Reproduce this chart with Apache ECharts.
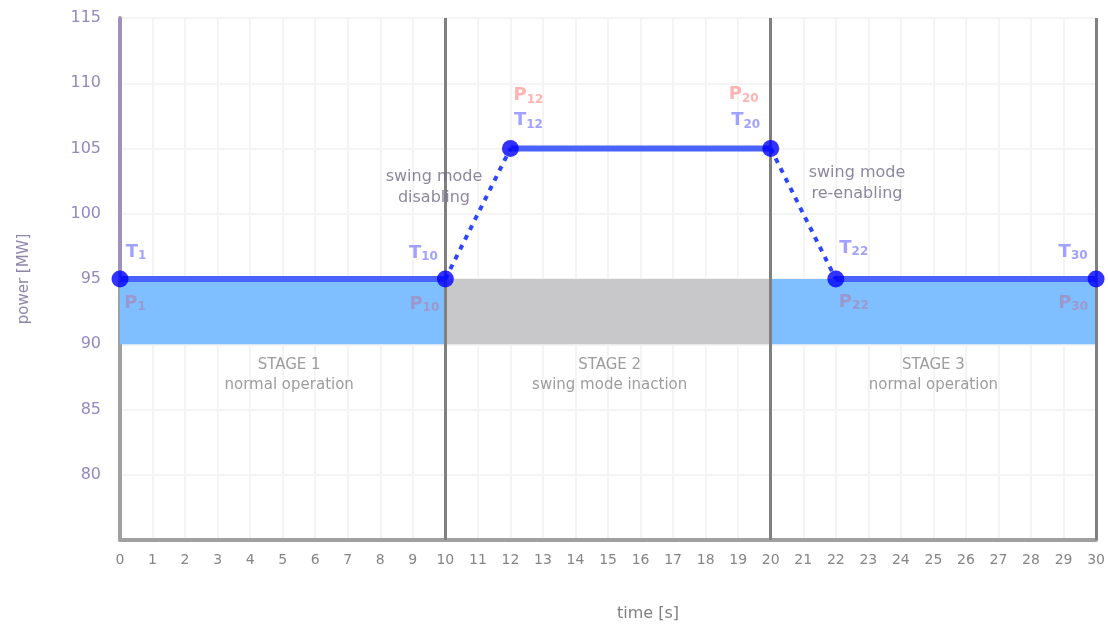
<!DOCTYPE html>
<html><head><meta charset="utf-8">
<script src="https://cdn.jsdelivr.net/npm/echarts@6.0.0/dist/echarts.min.js"></script>
<style>html,body{margin:0;padding:0;background:#fff}#c{width:1108px;height:628px}</style>
</head><body><div id="c"></div>
<script>
// ---- data ----
const times = [0, 10, 12, 20, 22, 30];
const power = [95, 95, 105, 105, 95, 95];
const solidSegments = [[0, 1], [2, 3], [4, 5]];
const dashedSegments = [[1, 2], [3, 4]];
const pointSubscripts = ['1', '10', '12', '20', '22', '30'];
const stageBounds = [0, 10, 20, 30];
const bandRange = [90, 95];
const stageTitles = ['STAGE 1', 'STAGE 2', 'STAGE 3'];
const stageTexts = ['normal operation', 'swing mode inaction', 'normal operation'];
const noteTexts = ['swing mode\ndisabling', 'swing mode\nre-enabling'];
const yMin = 75, yMax = 115;

// ---- layout (not data) ----
const tOffsets = [[16, -27], [-22, -26], [18, -28], [-25, -28], [18, -31], [-23, -27]];
const pOffsets = [[15, 24], [-21, 25], [18, -53], [-27, -54], [18, 23], [-23, 24]];
const pTopColor = [false, false, true, true, false, false];
const stageLabelPos = [[5.2, 87.6], [15.05, 87.6], [25.0, 87.6]];
const notePos = [[9.65, 102.0], [22.65, 102.3]];
const bandColors = ['#80bfff', '#c8c8cb', '#80bfff'];
const FONT = 'DejaVu Sans';

const chart = echarts.init(document.getElementById('c'), null, {renderer: 'canvas'});

const series = [];

// stage bands
series.push({
  type: 'line', data: [], silent: true, z: 1,
  markArea: {
    silent: true,
    data: stageTitles.map((_, i) => [
      {xAxis: stageBounds[i], yAxis: bandRange[0], itemStyle: {color: bandColors[i], opacity: 1}},
      {xAxis: stageBounds[i + 1], yAxis: bandRange[1]}
    ])
  }
});

// stage boundary lines
series.push({
  type: 'line', data: [], silent: true, z: 3,
  markLine: {
    silent: true, symbol: ['none', 'none'], label: {show: false},
    lineStyle: {color: '#808080', width: 3, type: 'solid'},
    data: stageBounds.slice(1).map(b => ({xAxis: b}))
  }
});

// purple segment on y axis
series.push({
  type: 'line', silent: true, z: 4, symbol: 'none',
  lineStyle: {color: '#a090c0', width: 4},
  data: [[times[0], power[0]], [times[0], yMax]]
});

solidSegments.forEach(([a, b]) => series.push({
  type: 'line', symbol: 'none', z: 5, silent: true,
  lineStyle: {color: '#4a62ff', width: 6},
  data: [[times[a], power[a]], [times[b], power[b]]]
}));
dashedSegments.forEach(([a, b]) => series.push({
  type: 'line', symbol: 'none', z: 5, silent: true,
  lineStyle: {color: '#2f46ff', width: 4, type: [5, 6]},
  data: [[times[a], power[a]], [times[b], power[b]]]
}));

// points
series.push({
  type: 'scatter', z: 6, symbol: 'circle', symbolSize: 17,
  itemStyle: {color: '#0000ff'},
  data: times.map((t, i) => [t, power[i]])
});

const rich = (c) => ({
  m: {fontSize: 18, color: c, fontFamily: FONT, fontWeight: 'bold'},
  s: {fontSize: 12, color: c, fontFamily: FONT, fontWeight: 'bold', padding: [8, 0, 0, 0]}
});

// T labels
series.push({
  type: 'scatter', z: 7, symbolSize: 0, silent: true,
  data: times.map((t, i) => ({
    value: [t, power[i]],
    label: {
      show: true, position: 'inside', offset: tOffsets[i],
      formatter: '{m|T}{s|' + pointSubscripts[i] + '}', rich: rich('#8a8aff')
    }
  }))
});
// P labels
series.push({
  type: 'scatter', z: 7, symbolSize: 0, silent: true,
  data: times.map((t, i) => ({
    value: [t, power[i]],
    label: {
      show: true, position: 'inside', offset: pOffsets[i],
      formatter: '{m|P}{s|' + pointSubscripts[i] + '}',
      rich: rich(pTopColor[i] ? '#ffa0a0' : '#a08fc0')
    }
  }))
});

// stage texts
series.push({
  type: 'scatter', z: 7, symbolSize: 0, silent: true,
  data: stageTitles.map((s, i) => ({
    value: stageLabelPos[i],
    label: {
      show: true, position: 'inside', formatter: s + '\n' + stageTexts[i],
      color: '#858585', fontSize: 15, lineHeight: 20, align: 'center',
      fontFamily: FONT
    }
  }))
});
// notes
series.push({
  type: 'scatter', z: 7, symbolSize: 0, silent: true,
  data: noteTexts.map((s, i) => ({
    value: notePos[i],
    label: {
      show: true, position: 'inside', formatter: s,
      color: '#6f6986', fontSize: 16, lineHeight: 21, align: 'center',
      fontFamily: FONT
    }
  }))
});

chart.setOption({
  animation: false,
  backgroundColor: '#ffffff',
  grid: {left: 120, right: 8, top: 18, bottom: 88, containLabel: false},
  xAxis: {
    type: 'value', min: 0, max: 30, interval: 1,
    name: 'time [s]', nameLocation: 'middle', nameGap: 66,
    nameTextStyle: {color: '#808080', fontSize: 16, padding: [0, 0, 0, 80], fontFamily: FONT},
    axisLine: {show: true, lineStyle: {color: '#a0a0a0', width: 4}},
    axisTick: {show: false},
    axisLabel: {color: '#858585', fontSize: 14, margin: 13, fontFamily: FONT},
    splitLine: {show: true, lineStyle: {color: '#f4f4f4', width: 2}}
  },
  yAxis: {
    type: 'value', min: yMin, max: yMax, interval: 5,
    name: 'power [MW]', nameLocation: 'middle', nameGap: 88, nameRotate: 90,
    nameTextStyle: {color: '#8f86aa', fontSize: 15, fontFamily: FONT},
    axisLine: {show: true, onZero: false, lineStyle: {color: '#a0a0a0', width: 4}},
    axisTick: {show: false},
    axisLabel: {
      color: '#9488bd', fontSize: 16, margin: 19, fontFamily: FONT,
      formatter: v => (v === yMin ? '' : String(v))
    },
    splitLine: {show: true, lineStyle: {color: '#f4f4f4', width: 2}}
  },
  series: series
});
</script>
</body></html>
